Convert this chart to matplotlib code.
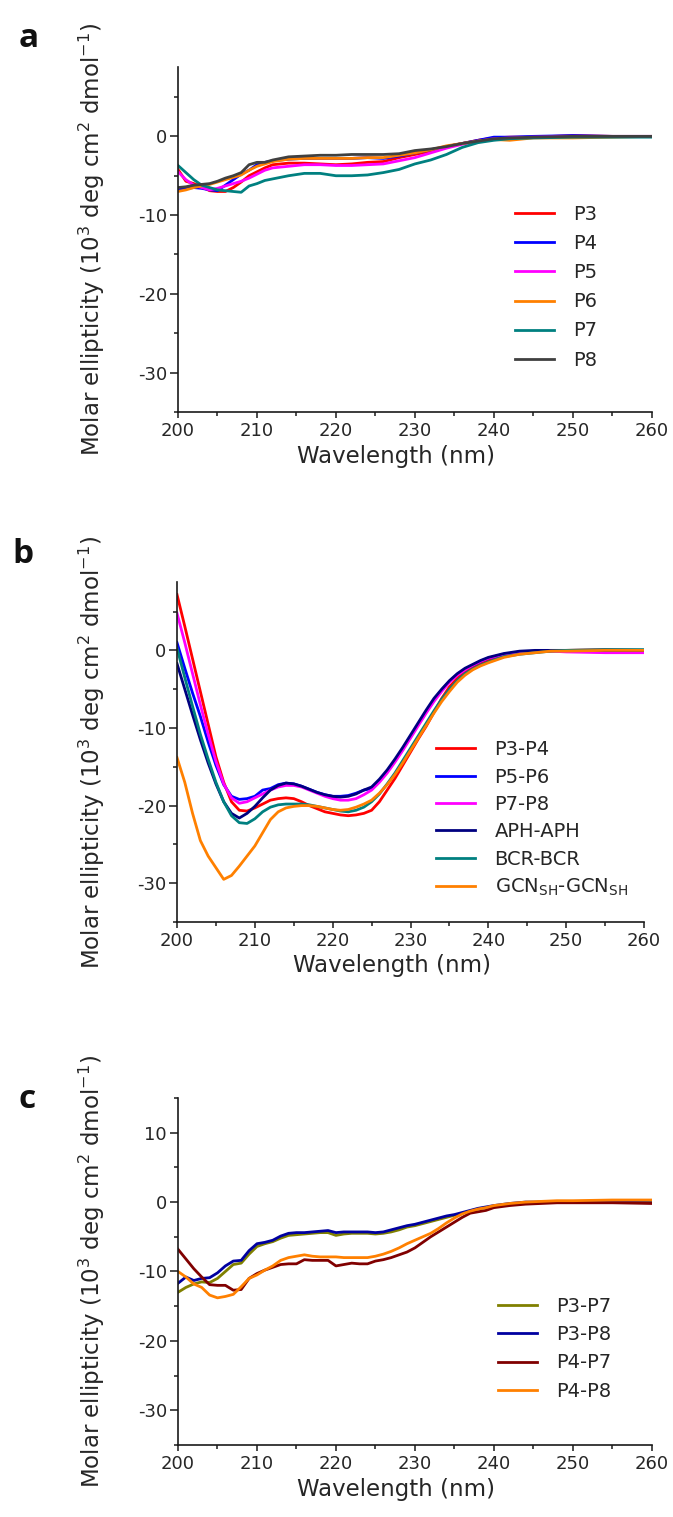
import matplotlib
matplotlib.use("Agg")
import matplotlib.pyplot as plt
from matplotlib.ticker import MultipleLocator

# ---- data (10^3 deg cm2 dmol-1) ----
wl_a = [200, 201, 202, 203, 204, 205, 206, 207, 208, 209, 210, 211, 212, 214, 216, 218,
        220, 222, 224, 226, 228, 230, 232, 234, 236, 238, 240, 242, 245, 250, 255, 260]
p3 = [-4.2, -5.7, -6.0, -6.4, -6.9, -7.0, -7.0, -6.5, -5.8, -5.0, -4.5, -4.0, -3.6, -3.4, -3.4, -3.5,
      -3.6, -3.5, -3.3, -3.2, -2.7, -2.3, -1.9, -1.3, -0.9, -0.5, -0.2, -0.1, -0.1, 0.1, 0.0, 0.0]
p4 = [-6.8, -6.6, -6.5, -6.6, -6.8, -6.9, -6.2, -5.5, -4.8, -4.3, -3.6, -3.3, -3.1, -2.9, -2.8, -2.8,
      -2.8, -2.8, -2.7, -2.8, -2.5, -2.1, -1.7, -1.3, -0.9, -0.5, -0.1, -0.1, 0.0, 0.1, 0.0, 0.0]
p5 = [-4.5, -5.5, -6.2, -6.5, -6.8, -6.6, -6.3, -6.0, -5.7, -5.3, -4.8, -4.3, -4.0, -3.8, -3.6, -3.6,
      -3.7, -3.7, -3.6, -3.5, -3.1, -2.7, -2.1, -1.5, -1.0, -0.6, -0.3, -0.2, -0.1, 0.0, 0.0, 0.0]
p6 = [-7.0, -6.8, -6.5, -6.3, -6.1, -5.8, -5.5, -5.2, -4.9, -4.3, -3.8, -3.5, -3.2, -2.9, -2.8, -2.8,
      -2.8, -2.8, -2.7, -2.7, -2.4, -2.1, -1.7, -1.2, -0.9, -0.6, -0.4, -0.5, -0.2, -0.2, -0.1, 0.0]
p7 = [-3.7, -4.6, -5.5, -6.2, -6.5, -6.8, -6.9, -7.0, -7.1, -6.3, -6.0, -5.6, -5.4, -5.0, -4.7, -4.7,
      -5.0, -5.0, -4.9, -4.6, -4.2, -3.5, -3.0, -2.3, -1.4, -0.8, -0.5, -0.3, -0.2, -0.1, -0.1, -0.1]
p8 = [-6.5, -6.4, -6.2, -6.1, -6.0, -5.7, -5.3, -5.0, -4.6, -3.6, -3.3, -3.3, -3.0, -2.6, -2.5, -2.4,
      -2.4, -2.3, -2.3, -2.3, -2.2, -1.8, -1.6, -1.3, -0.9, -0.6, -0.3, -0.2, -0.1, 0.0, 0.0, 0.0]

wl_b = list(range(200, 241)) + [242, 244, 246, 248, 250, 255, 260]
p3p4 = [7.2, 3.1, -1.1, -5.3, -9.5, -13.7, -17.0, -19.5, -20.6, -20.7, -20.3, -19.8, -19.3, -19.1,
        -19.0, -19.1, -19.5, -20.0, -20.4, -20.8, -21.0, -21.2, -21.3, -21.2, -21.0, -20.6, -19.5,
        -18.0, -16.5, -14.8, -13.1, -11.4, -9.8, -8.0, -6.2, -4.7, -3.6, -2.8, -2.2, -1.7, -1.3,
        -0.7, -0.4, -0.2, -0.1, 0.0, 0.1, 0.0]
p5p6 = [1.0, -2.3, -5.5, -8.5, -11.8, -14.8, -17.3, -18.8, -19.2, -19.1, -18.8, -18.0, -17.8, -17.3,
        -17.1, -17.2, -17.5, -17.9, -18.3, -18.6, -18.8, -18.8, -18.7, -18.4, -18.0, -17.8, -16.8,
        -15.6, -14.2, -12.7, -11.1, -9.5, -7.9, -6.4, -5.1, -4.0, -3.1, -2.4, -1.9, -1.4, -1.0,
        -0.5, -0.2, -0.1, 0.0, 0.0, -0.1, -0.2]
p7p8 = [4.8, 1.0, -3.0, -7.0, -10.8, -14.3, -17.2, -19.0, -19.7, -19.5, -19.0, -18.5, -18.0, -17.6,
        -17.4, -17.4, -17.6, -18.0, -18.4, -18.8, -19.1, -19.3, -19.3, -19.1, -18.6, -18.0, -17.0,
        -15.8, -14.4, -12.9, -11.3, -9.7, -8.1, -6.6, -5.3, -4.1, -3.2, -2.5, -1.9, -1.4, -1.0,
        -0.5, -0.2, -0.1, -0.1, -0.2, -0.3, -0.3]
aph = [-1.7, -5.0, -8.3, -11.5, -14.5, -17.2, -19.5, -21.0, -21.6, -21.0, -20.1, -19.0, -18.0, -17.4,
       -17.1, -17.2, -17.5, -17.9, -18.3, -18.6, -18.8, -18.9, -18.8, -18.5, -18.0, -17.6, -16.6,
       -15.4, -14.0, -12.5, -10.9, -9.3, -7.7, -6.2, -5.0, -3.9, -3.0, -2.3, -1.8, -1.3, -0.9,
       -0.4, -0.1, 0.0, 0.0, 0.0, 0.0, 0.0]
bcr = [0.3, -3.5, -7.2, -10.8, -14.0, -17.0, -19.5, -21.3, -22.2, -22.3, -21.7, -20.8, -20.2, -19.9,
       -19.8, -19.8, -19.8, -19.9, -20.1, -20.3, -20.5, -20.7, -20.8, -20.6, -20.2, -19.5, -18.5,
       -17.2, -15.8, -14.2, -12.6, -11.0, -9.4, -7.8, -6.3, -5.0, -3.9, -3.0, -2.4, -1.9, -1.5,
       -0.8, -0.5, -0.3, -0.1, 0.0, 0.1, 0.1]
gcn = [-13.8, -17.0, -21.0, -24.5, -26.5, -28.0, -29.5, -29.0, -27.8, -26.5, -25.2, -23.5, -21.8,
       -20.8, -20.3, -20.1, -20.0, -20.0, -20.1, -20.3, -20.5, -20.6, -20.5, -20.2, -19.8, -19.3,
       -18.4, -17.3, -16.0, -14.5, -12.9, -11.3, -9.7, -8.1, -6.6, -5.3, -4.1, -3.2, -2.5, -2.0,
       -1.6, -0.9, -0.5, -0.3, -0.1, -0.1, 0.0, 0.0]

wl_c = list(range(200, 241)) + [242, 244, 246, 248, 250, 255, 260]
p3p7 = [-13.0, -12.3, -11.8, -11.5, -11.6, -11.0, -10.0, -9.0, -8.8, -7.5, -6.4, -6.0, -5.7, -5.2,
        -4.8, -4.7, -4.6, -4.5, -4.4, -4.4, -4.8, -4.6, -4.5, -4.5, -4.5, -4.6, -4.5, -4.3, -4.0,
        -3.6, -3.4, -3.1, -2.8, -2.5, -2.2, -1.9, -1.6, -1.3, -1.0, -0.8, -0.6,
        -0.3, -0.1, 0.0, 0.0, 0.0, 0.0, 0.0]
p3p8 = [-11.7, -10.8, -11.3, -11.0, -10.9, -10.2, -9.2, -8.5, -8.4, -7.0, -6.0, -5.8, -5.5, -4.9,
        -4.5, -4.4, -4.4, -4.3, -4.2, -4.1, -4.4, -4.3, -4.3, -4.3, -4.3, -4.4, -4.3, -4.0, -3.7,
        -3.4, -3.2, -2.9, -2.6, -2.3, -2.0, -1.8, -1.5, -1.2, -0.9, -0.7, -0.5,
        -0.2, 0.0, 0.0, 0.0, 0.0, 0.0, -0.1]
p4p7 = [-6.8, -8.2, -9.6, -10.8, -11.9, -12.0, -12.0, -12.7, -12.6, -11.0, -10.3, -9.8, -9.4, -9.0,
        -8.9, -8.9, -8.3, -8.4, -8.4, -8.4, -9.2, -9.0, -8.8, -8.9, -8.9, -8.5, -8.3, -8.0, -7.6,
        -7.2, -6.6, -5.8, -5.0, -4.3, -3.6, -2.9, -2.2, -1.6, -1.4, -1.2, -0.8,
        -0.5, -0.3, -0.2, -0.1, -0.1, -0.1, -0.2]
p4p8 = [-10.0, -10.8, -11.8, -12.3, -13.4, -13.8, -13.6, -13.3, -12.2, -11.0, -10.5, -9.8, -9.2,
        -8.4, -8.0, -7.8, -7.6, -7.8, -7.9, -7.9, -7.9, -8.0, -8.0, -8.0, -8.0, -7.8, -7.5, -7.1,
        -6.6, -6.0, -5.5, -5.0, -4.5, -3.8, -3.0, -2.3, -1.7, -1.3, -1.0, -0.8, -0.5,
        -0.2, 0.0, 0.1, 0.2, 0.2, 0.3, 0.3]

txt = '#262626'
plt.rcParams['font.family'] = ['DejaVu Sans']
plt.rcParams['mathtext.fontset'] = 'dejavusans'
plt.rcParams['axes.unicode_minus'] = False

fig = plt.figure(figsize=(6.73, 15.17), dpi=100)

def setup(ax, ylim, yticks):
    ax.set_xlim(200, 260)
    ax.set_ylim(*ylim)
    ax.set_xticks(range(200, 261, 10))
    ax.set_yticks(yticks)
    ax.xaxis.set_minor_locator(MultipleLocator(5))
    ax.yaxis.set_minor_locator(MultipleLocator(5))
    for s in ['top', 'right']:
        ax.spines[s].set_visible(False)
    for s in ['left', 'bottom']:
        ax.spines[s].set_linewidth(1.2)
        ax.spines[s].set_color('#1a1a1a')
    ax.tick_params(axis='y', which='major', length=6, width=1.1, pad=2, labelsize=13, colors='#1a1a1a', labelcolor=txt)
    ax.tick_params(axis='y', which='minor', length=3, width=1.1, colors='#1a1a1a')
    ax.tick_params(axis='x', which='major', length=4, width=1.1, pad=3, labelsize=13, colors='#1a1a1a', labelcolor=txt)
    ax.tick_params(axis='x', which='minor', length=3, width=1.1, colors='#1a1a1a')
    ax.set_xlabel('Wavelength (nm)', fontsize=16.5, color=txt)
    ax.set_ylabel('Molar ellipticity (10$^3$ deg cm$^2$ dmol$^{-1}$)', fontsize=16.5, color=txt)
    ax.xaxis.set_label_coords(0.46, -0.095)
    ax.yaxis.set_label_coords(-0.15, 0.5)

lw = 2.0

# panel a
ax1 = fig.add_axes([0.2645, 0.7284, 0.704, 0.2274])
for y, c, lab in [(p3, '#ff0000', 'P3'), (p4, '#0000ff', 'P4'), (p5, '#ff00ff', 'P5'),
                  (p6, '#ff8000', 'P6'), (p7, '#008080', 'P7'), (p8, '#404040', 'P8')]:
    ax1.plot(wl_a, y, color=c, lw=lw, label=lab)
setup(ax1, (-35, 8.8), [-30, -20, -10, 0])
ax1.legend(loc='upper left', bbox_to_anchor=(0.711, 0.6), frameon=False, fontsize=14,
           handlelength=2.0, handletextpad=1.0, labelspacing=0.52, borderpad=0, borderaxespad=0,
           labelcolor=txt)

# panel b
ax2 = fig.add_axes([0.263, 0.3922, 0.694, 0.2241])
for y, c, lab in [(p3p4, '#ff0000', 'P3-P4'), (p5p6, '#0000ff', 'P5-P6'), (p7p8, '#ff00ff', 'P7-P8'),
                  (aph, '#000080', 'APH-APH'), (bcr, '#008080', 'BCR-BCR'),
                  (gcn, '#ff8000', 'GCN$_{\\rm SH}$-GCN$_{\\rm SH}$')]:
    ax2.plot(wl_b, y, color=c, lw=lw, label=lab)
setup(ax2, (-35, 8.8), [-30, -20, -10, 0])
ax2.legend(loc='upper left', bbox_to_anchor=(0.555, 0.535), frameon=False, fontsize=14,
           handlelength=2.0, handletextpad=1.0, labelspacing=0.43, borderpad=0, borderaxespad=0,
           labelcolor=txt)

# panel c
ax3 = fig.add_axes([0.2645, 0.0475, 0.704, 0.2287])
for y, c, lab in [(p3p7, '#808000', 'P3-P7'), (p3p8, '#0000a0', 'P3-P8'),
                  (p4p7, '#800000', 'P4-P7'), (p4p8, '#ff8000', 'P4-P8')]:
    ax3.plot(wl_c, y, color=c, lw=lw, label=lab)
setup(ax3, (-35, 15), [-30, -20, -10, 0, 10])
ax3.legend(loc='upper left', bbox_to_anchor=(0.675, 0.427), frameon=False, fontsize=14,
           handlelength=2.0, handletextpad=1.0, labelspacing=0.48, borderpad=0, borderaxespad=0,
           labelcolor=txt)

for x, y, s in [(0.028, 0.969, 'a'), (0.019, 0.629, 'b'), (0.028, 0.2696, 'c')]:
    fig.text(x, y, s, fontsize=24, fontweight='bold', family='Open Sans', va='baseline', color='#111111')

fig.savefig('out.png', dpi=100)
